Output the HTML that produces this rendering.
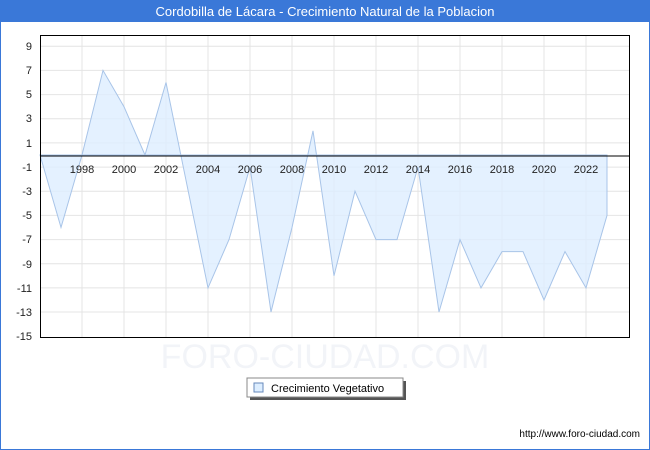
<!DOCTYPE html>
<html><head><meta charset="utf-8"><style>
body{margin:0;background:#fff}
svg{display:block;font-family:"Liberation Sans",sans-serif}
</style></head><body>
<svg width="650" height="450" viewBox="0 0 650 450">
<rect x="0.5" y="0.5" width="649" height="449" fill="#fff" stroke="#3a78d8"/>
<rect x="0" y="0" width="650" height="22" fill="#3a78d8"/>
<text x="325" y="16" fill="#fff" font-size="13" text-anchor="middle">Cordobilla de Lácara - Crecimiento Natural de la Poblacion</text>
<g stroke="#e4e4e4" stroke-width="1">
<line x1="40" x2="630" y1="46.3" y2="46.3"/><line x1="40" x2="630" y1="70.4" y2="70.4"/>
<line x1="40" x2="630" y1="94.6" y2="94.6"/><line x1="40" x2="630" y1="118.8" y2="118.8"/>
<line x1="40" x2="630" y1="142.9" y2="142.9"/><line x1="40" x2="630" y1="167.1" y2="167.1"/>
<line x1="40" x2="630" y1="191.2" y2="191.2"/><line x1="40" x2="630" y1="215.4" y2="215.4"/>
<line x1="40" x2="630" y1="239.6" y2="239.6"/><line x1="40" x2="630" y1="263.7" y2="263.7"/>
<line x1="40" x2="630" y1="287.9" y2="287.9"/><line x1="40" x2="630" y1="312" y2="312"/>
<line x1="82" x2="82" y1="35" y2="338"/><line x1="124" x2="124" y1="35" y2="338"/>
<line x1="166" x2="166" y1="35" y2="338"/><line x1="208" x2="208" y1="35" y2="338"/>
<line x1="250" x2="250" y1="35" y2="338"/><line x1="292" x2="292" y1="35" y2="338"/>
<line x1="334" x2="334" y1="35" y2="338"/><line x1="376" x2="376" y1="35" y2="338"/>
<line x1="418" x2="418" y1="35" y2="338"/><line x1="460" x2="460" y1="35" y2="338"/>
<line x1="502" x2="502" y1="35" y2="338"/><line x1="544" x2="544" y1="35" y2="338"/>
<line x1="586" x2="586" y1="35" y2="338"/>
</g>
<text x="325" y="368" font-size="34" fill="#f2f4f8" text-anchor="middle">FORO-CIUDAD.COM</text>
<polygon fill="#ddeeff" fill-opacity="0.8" stroke="#a8c4e8" stroke-width="1" points="40,155 61,227.5 82,155 103,70.4 124,106.7 145,155 166,82.5 187,185.2 208,287.9 229,239.6 250,167.1 271,312 292,227.5 313,130.8 334,275.8 355,191.2 376,239.6 397,239.6 418,167.1 439,312 460,239.6 481,287.9 502,251.6 523,251.6 544,300 565,251.6 586,287.9 607,215.4 607,155"/>
<line x1="40" x2="630" y1="156" y2="156" stroke="#000"/>
<rect x="40.5" y="35.5" width="589" height="302" fill="none" stroke="#000"/>
<g font-size="11" fill="#222" text-anchor="end">
<text x="32" y="50">9</text><text x="32" y="74">7</text><text x="32" y="98">5</text><text x="32" y="122">3</text>
<text x="32" y="147">1</text><text x="32" y="171">-1</text><text x="32" y="195">-3</text><text x="32" y="219">-5</text>
<text x="32" y="243">-7</text><text x="32" y="268">-9</text><text x="32" y="292">-11</text><text x="32" y="316">-13</text><text x="32" y="340">-15</text>
</g>
<g font-size="11" fill="#222" text-anchor="middle">
<text x="82" y="173">1998</text><text x="124" y="173">2000</text><text x="166" y="173">2002</text>
<text x="208" y="173">2004</text><text x="250" y="173">2006</text><text x="292" y="173">2008</text>
<text x="334" y="173">2010</text><text x="376" y="173">2012</text><text x="418" y="173">2014</text>
<text x="460" y="173">2016</text><text x="502" y="173">2018</text><text x="544" y="173">2020</text><text x="586" y="173">2022</text>
</g>
<rect x="250" y="381" width="156" height="19" fill="#555"/>
<rect x="247" y="378" width="156" height="19" fill="#fff" stroke="#888"/>
<rect x="254" y="383" width="9" height="9" fill="#ddeeff" stroke="#6688bb"/>
<text x="271" y="392" font-size="11" fill="#000">Crecimiento Vegetativo</text>
<text x="640" y="437" font-size="10" fill="#000" text-anchor="end">http://www.foro-ciudad.com</text>
</svg>
</body></html>
